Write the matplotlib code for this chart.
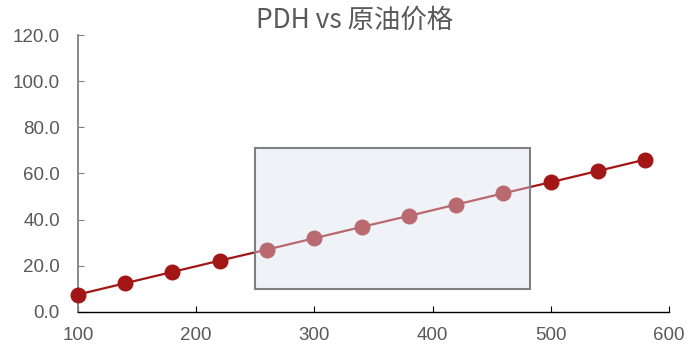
import matplotlib.pyplot as plt
from matplotlib.patches import Rectangle
from matplotlib.ticker import FormatStrFormatter

plt.rcParams['font.family'] = ['Noto Sans CJK SC', 'DejaVu Sans']

# 数据
crude = [100, 140, 180, 220, 260, 300, 340, 380, 420, 460, 500, 540, 580]
pdh = [7.5, 12.4, 17.3, 22.2, 27.0, 31.9, 36.8, 41.6, 46.5, 51.4, 56.2, 61.1, 66.0]
box_x = [250, 482]
box_y = [10, 71]

fig = plt.figure(figsize=(6.89, 3.5), dpi=100)
ax = fig.add_axes([0.113, 0.109, 0.858, 0.791])

ax.plot(crude, pdh, color='#a31616', linewidth=1.6, marker='o',
        markersize=10.5, zorder=5, clip_on=False)

# 高亮区域
ax.add_patch(Rectangle((box_x[0], box_y[0]), box_x[1] - box_x[0], box_y[1] - box_y[0],
                       facecolor=(0.85, 0.88, 0.93, 0.42), edgecolor='#808080',
                       linewidth=1.5, zorder=6))

ax.set_xlim(100, 600)
ax.set_ylim(0, 120)
ax.set_xticks(range(100, 601, 100))
ax.set_yticks(range(0, 121, 20))
ax.yaxis.set_major_formatter(FormatStrFormatter('%.1f'))

for s in ['top', 'right']:
    ax.spines[s].set_visible(False)
ax.spines['left'].set_color('#808080')
ax.spines['left'].set_linewidth(1.3)
ax.spines['bottom'].set_color('black')
ax.spines['bottom'].set_linewidth(1.0)

ax.tick_params(axis='both', direction='in', length=4, labelsize=13.5,
               labelcolor='#595959', labelfontfamily='Liberation Sans')
ax.tick_params(axis='y', color='#808080', pad=13)
ax.tick_params(axis='x', color='black', pad=11)

fig.text(0.515, 0.943, 'PDH vs 原油价格', ha='center', va='center',
         fontsize=19, color='#595959')

fig.savefig('out.png', dpi=100)
